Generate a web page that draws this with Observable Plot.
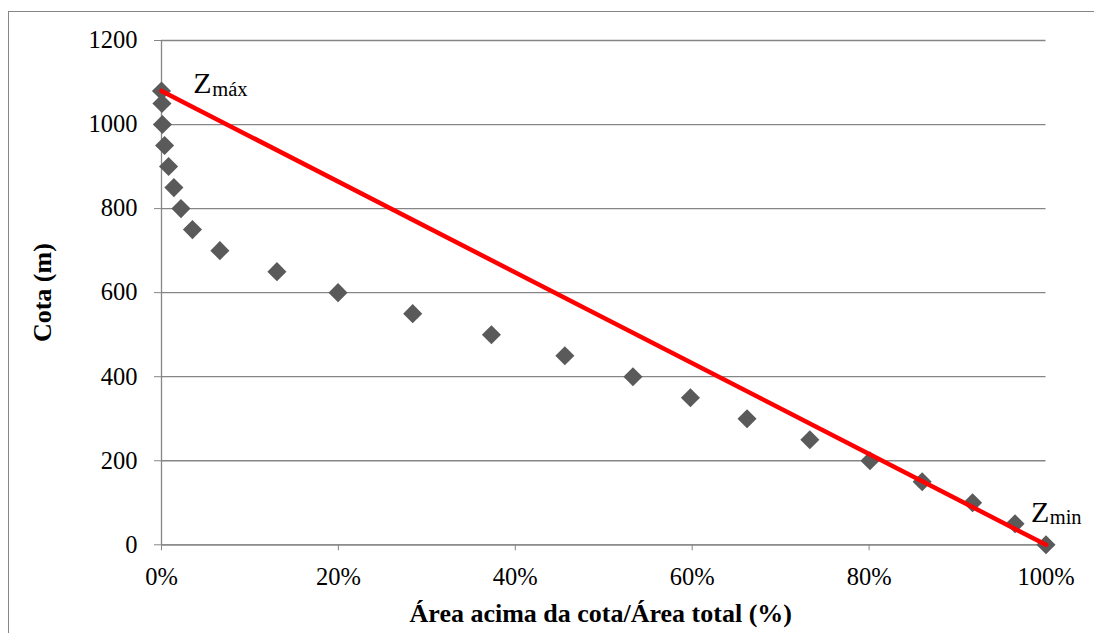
<!DOCTYPE html>
<html>
<head>
<meta charset="utf-8">
<script src="https://cdn.jsdelivr.net/npm/d3@7"></script>
<script src="https://cdn.jsdelivr.net/npm/@observablehq/plot@0.6"></script>
<style>
  html, body { margin: 0; padding: 0; background: #fff; overflow: hidden; }
  #wrap { position: relative; width: 1094px; height: 633px; }
  #border { position: absolute; left: 8px; top: 11px; width: 1200px; height: 800px;
            border-left: 1.5px solid #868686; border-top: 1.5px solid #868686; box-sizing: border-box; }
  #chart { position: absolute; left: 0; top: 0; }
  #chart svg, #chart svg text { font-family: "Liberation Serif", "Times New Roman", serif !important; }
</style>
</head>
<body>
<div id="wrap"><div id="border"></div><div id="chart"></div></div>
<script>
// Data
const areaPct = [0, 0.05, 0.1, 0.35, 0.8, 1.4, 2.2, 3.5, 6.6, 13.05, 19.96, 28.4, 37.3, 45.6, 53.3, 59.8, 66.2, 73.3, 80.1, 86.0, 91.7, 96.5, 100];
const cota    = [1080, 1050, 1000, 950, 900, 850, 800, 750, 700, 650, 600, 550, 500, 450, 400, 350, 300, 250, 200, 150, 100, 50, 0];
const lineX = [0, 100];
const lineY = [1080, 0];
const xTicks = [0, 20, 40, 60, 80, 100];
const yTicks = [0, 200, 400, 600, 800, 1000, 1200];
const xTitle = "Área acima da cota/Área total (%)";
const yTitle = "Cota (m)";
const zMaxLabel = {x: 0, y: 1080, main: "Z", sub: "máx"};
const zMinLabel = {x: 100, y: 0, main: "Z", sub: "min"};

const points = areaPct.map((a, i) => ({a, c: cota[i]}));
const linePts = lineX.map((a, i) => ({a, c: lineY[i]}));

const font = "'Liberation Serif', 'Times New Roman', serif";
const grey = "#868686";

const chart = Plot.plot({
  width: 1094,
  height: 633,
  marginLeft: 161,
  marginRight: 48.5,
  marginTop: 40,
  marginBottom: 88.7,
  style: {fontFamily: font, fontSize: "24px", color: "#000", background: "transparent"},
  x: {domain: [0, 100]},
  y: {domain: [0, 1200]},
  marks: [
    Plot.gridY(yTicks, {stroke: grey, strokeOpacity: 1, strokeWidth: 1.3}),
    Plot.ruleX([0], {stroke: grey, strokeWidth: 1.3}),
    Plot.ruleY([0], {stroke: grey, strokeWidth: 1.3}),
    Plot.axisY(yTicks, {tickSize: 7, tickPadding: 17, stroke: grey, strokeOpacity: 1, label: null, fill: "#000", fontSize: 24.5, fontFamily: font, tickFormat: d => String(d)}),
    Plot.axisX(xTicks, {tickSize: 6, tickPadding: 17, stroke: grey, strokeOpacity: 1, label: null, fill: "#000", fontSize: 24.5, fontFamily: font, tickFormat: d => d + "%"}),
    Plot.dot(points, {x: "a", y: "c", symbol: "diamond2", r: 8.6, fill: "#5a5a5a", stroke: "none"}),
    Plot.line(linePts, {x: "a", y: "c", stroke: "#ff0000", strokeWidth: 4.5}),
    Plot.text([zMaxLabel], {x: "x", y: "y", text: "main", textAnchor: "start", lineAnchor: "bottom", dx: 31.7, dy: 1.8, fontSize: 30, fontFamily: font, fill: "#000"}),
    Plot.text([zMaxLabel], {x: "x", y: "y", text: "sub", textAnchor: "start", lineAnchor: "bottom", dx: 50.7, dy: 4.6, fontSize: 20.5, fontFamily: font, fill: "#000"}),
    Plot.text([zMinLabel], {x: "x", y: "y", text: "main", textAnchor: "start", lineAnchor: "bottom", dx: -14.9, dy: -23.3, fontSize: 30, fontFamily: font, fill: "#000"}),
    Plot.text([zMinLabel], {x: "x", y: "y", text: "sub", textAnchor: "start", lineAnchor: "bottom", dx: 3.7, dy: -20.8, fontSize: 20.5, fontFamily: font, fill: "#000"}),
    Plot.text([xTitle], {frameAnchor: "bottom", text: d => d, textAnchor: "middle", lineAnchor: "bottom", dx: -3, dy: 77, fontWeight: "bold", fontSize: 26, fontFamily: font, fill: "#000"}),
    Plot.text([yTitle], {frameAnchor: "left", text: d => d, rotate: -90, textAnchor: "middle", lineAnchor: "middle", dx: -119, fontWeight: "bold", fontSize: 26, fontFamily: font, fill: "#000"})
  ]
});
document.getElementById("chart").appendChild(chart);
</script>
</body>
</html>
